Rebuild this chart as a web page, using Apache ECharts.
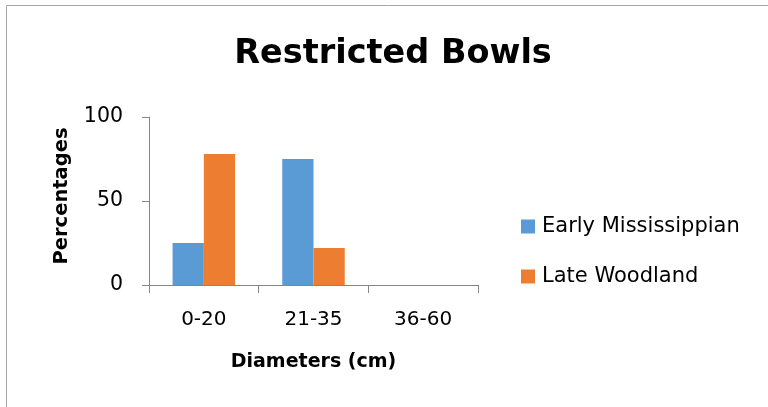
<!DOCTYPE html>
<html>
<head>
<meta charset="utf-8">
<script src="https://cdn.jsdelivr.net/npm/echarts@6/dist/echarts.min.js"></script>
<style>
  html, body { margin: 0; padding: 0; background: #fff; }
  #chart { width: 768px; height: 407px; }
</style>
</head>
<body>
<div id="chart"></div>
<script>
// Diameter classes of restricted bowls, percentage per period
const categories = ['0-20', '21-35', '36-60'];
const earlyMississippian = [25, 75, 0];
const lateWoodland = [78, 22, 0];
const yTicks = [0, 50, 100];

const FONT = '"DejaVu Sans", "Open Sans", sans-serif';
const chart = echarts.init(document.getElementById('chart'), null, { renderer: 'canvas' });

chart.setOption({
  backgroundColor: '#ffffff',
  animation: false,
  graphic: [{
    type: 'rect',
    shape: { x: 6.5, y: 5.5, width: 900, height: 600 },
    style: { fill: 'none', stroke: '#a6a6a6', lineWidth: 1 }
  }],
  title: {
    text: 'Restricted Bowls',
    left: 393,
    top: 37,
    padding: 0,
    textAlign: 'center',
    textStyle: { fontFamily: FONT, fontWeight: 'bold', fontSize: 33.5, color: '#000' }
  },
  legend: {
    orient: 'vertical',
    left: 521,
    top: 216,
    padding: 0,
    itemWidth: 14,
    itemHeight: 14,
    itemGap: 29,
    icon: 'rect',
    textStyle: { fontFamily: FONT, fontSize: 21, color: '#000', padding: [0, 0, 0, 2] },
    data: ['Early Mississippian', 'Late Woodland']
  },
  grid: { left: 149, right: 290, top: 117, bottom: 122, containLabel: false },
  xAxis: {
    type: 'category',
    data: categories,
    name: 'Diameters (cm)',
    nameLocation: 'middle',
    nameGap: 68,
    nameTextStyle: { fontFamily: FONT, fontWeight: 'bold', fontSize: 19, color: '#000' },
    axisLine: { lineStyle: { color: '#868686', width: 1 } },
    axisTick: { show: true, length: 8, inside: false, lineStyle: { color: '#868686' } },
    axisLabel: { fontFamily: FONT, fontSize: 20, color: '#000', margin: 25 }
  },
  yAxis: {
    type: 'value',
    min: yTicks[0],
    max: yTicks[yTicks.length - 1],
    interval: yTicks[1] - yTicks[0],
    name: 'Percentages',
    nameLocation: 'middle',
    nameGap: 77,
    nameRotate: 90,
    nameTextStyle: { fontFamily: FONT, fontWeight: 'bold', fontSize: 19.5, color: '#000', padding: [0, 0, 0, 10] },
    axisLine: { show: true, lineStyle: { color: '#868686', width: 1 } },
    axisTick: { show: true, length: 7, inside: false, lineStyle: { color: '#868686' } },
    splitLine: { show: false },
    axisLabel: { fontFamily: FONT, fontSize: 20.5, color: '#000', margin: 26 }
  },
  series: [
    {
      name: 'Early Mississippian',
      type: 'bar',
      data: earlyMississippian,
      barGap: '0%',
      barCategoryGap: '43%',
      itemStyle: { color: '#5b9bd5' }
    },
    {
      name: 'Late Woodland',
      type: 'bar',
      data: lateWoodland,
      itemStyle: { color: '#ed7d31' }
    }
  ]
});
</script>
</body>
</html>
